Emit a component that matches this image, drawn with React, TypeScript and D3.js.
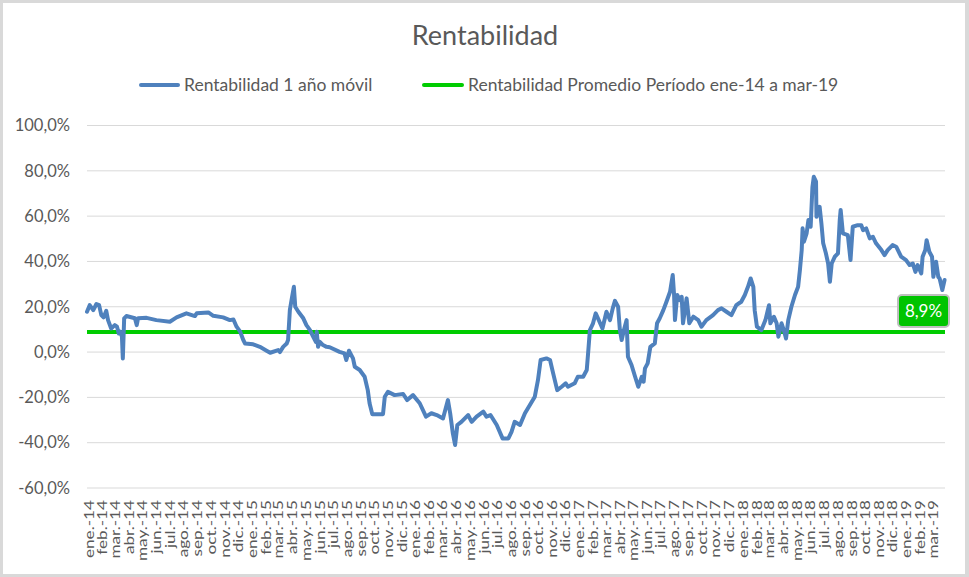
import React, { useEffect } from "react";
import * as d3 from "d3";

// Rentabilidad 1 año móvil (%)
const serie2014: [string, number][] = [
  ["2014-01-01", 17.8], ["2014-01-07", 20.7], ["2014-01-15", 18.5], ["2014-01-22", 21.2],
  ["2014-01-28", 20.7], ["2014-02-02", 16.3], ["2014-02-07", 15.3], ["2014-02-13", 18.2],
  ["2014-02-17", 14.1], ["2014-02-24", 10.4], ["2014-03-04", 11.9], ["2014-03-09", 11.2],
  ["2014-03-13", 8.2], ["2014-03-16", 9.0], ["2014-03-20", 6.8], ["2014-03-22", -2.8],
  ["2014-03-25", 14.9], ["2014-03-30", 15.9], ["2014-04-18", 14.9], ["2014-04-22", 11.9],
  ["2014-04-25", 14.9], ["2014-05-14", 15.1], ["2014-06-05", 14.1], ["2014-07-05", 13.4],
  ["2014-07-20", 15.3], ["2014-08-11", 17.1], ["2014-08-30", 15.9], ["2014-09-03", 17.1],
  ["2014-09-29", 17.5], ["2014-10-10", 16.0], ["2014-11-01", 15.3], ["2014-11-16", 14.1],
  ["2014-11-24", 14.4], ["2014-12-01", 11.2], ["2014-12-09", 9.0], ["2014-12-16", 5.3],
  ["2014-12-20", 3.8],
];

const serie2015: [string, number][] = [
  ["2015-01-07", 3.4], ["2015-01-22", 2.3], ["2015-02-06", 0.6], ["2015-02-14", -0.3],
  ["2015-03-04", 0.9], ["2015-03-08", 0.0], ["2015-03-15", 2.3], ["2015-03-23", 3.8],
  ["2015-03-26", 5.3], ["2015-03-30", 18.5], ["2015-04-04", 24.4], ["2015-04-08", 28.8],
  ["2015-04-11", 20.0], ["2015-04-18", 17.8], ["2015-04-29", 14.9], ["2015-05-06", 11.9],
  ["2015-05-14", 9.7], ["2015-05-21", 6.8], ["2015-05-27", 4.5], ["2015-05-29", 9.0],
  ["2015-06-01", 2.3], ["2015-06-05", 4.5], ["2015-06-12", 3.1], ["2015-06-20", 2.3],
  ["2015-06-27", 2.1], ["2015-07-19", 0.1], ["2015-07-30", -0.6], ["2015-08-03", -3.5],
  ["2015-08-09", 0.6], ["2015-08-18", -2.8], ["2015-08-22", -6.5], ["2015-09-02", -7.9],
  ["2015-09-13", -10.9], ["2015-09-20", -16.8], ["2015-09-24", -22.6], ["2015-09-30", -27.4],
  ["2015-10-24", -27.4], ["2015-10-28", -19.7], ["2015-11-04", -17.5], ["2015-11-19", -19.0],
  ["2015-12-08", -18.5], ["2015-12-17", -21.2], ["2015-12-30", -19.0],
];

const serie2016: [string, number][] = [
  ["2016-01-14", -22.6], ["2016-01-28", -28.5], ["2016-02-09", -27.0], ["2016-02-21", -27.8],
  ["2016-03-06", -29.3], ["2016-03-17", -21.2], ["2016-03-22", -27.0], ["2016-03-28", -35.9],
  ["2016-04-02", -41.0], ["2016-04-07", -32.2], ["2016-04-16", -30.8], ["2016-05-01", -27.8],
  ["2016-05-09", -30.8], ["2016-05-20", -28.5], ["2016-06-04", -26.3], ["2016-06-11", -28.5],
  ["2016-06-20", -27.8], ["2016-07-04", -32.2], ["2016-07-17", -38.1], ["2016-07-30", -38.1],
  ["2016-08-06", -35.2], ["2016-08-13", -30.8], ["2016-08-25", -32.2], ["2016-09-05", -27.0],
  ["2016-09-16", -23.4], ["2016-09-27", -19.7], ["2016-10-04", -12.4], ["2016-10-10", -3.5],
  ["2016-10-23", -2.8], ["2016-10-31", -3.5], ["2016-11-07", -9.4], ["2016-11-16", -16.8],
  ["2016-11-26", -15.3], ["2016-12-05", -13.8], ["2016-12-10", -15.3], ["2016-12-25", -13.8],
];

const serie2017: [string, number][] = [
  ["2017-01-01", -10.9], ["2017-01-13", -10.9], ["2017-01-21", -7.9], ["2017-01-24", -0.6],
  ["2017-01-28", 9.7], ["2017-02-04", 12.7], ["2017-02-10", 17.1], ["2017-02-15", 14.9],
  ["2017-02-25", 10.4], ["2017-03-06", 17.8], ["2017-03-14", 14.1], ["2017-03-20", 19.3],
  ["2017-03-25", 22.6], ["2017-04-01", 20.0], ["2017-04-05", 9.7], ["2017-04-09", 5.3],
  ["2017-04-14", 9.7], ["2017-04-20", 14.1], ["2017-04-23", -2.1], ["2017-05-01", -5.7],
  ["2017-05-09", -10.9], ["2017-05-16", -15.3], ["2017-05-24", -10.9], ["2017-05-28", -13.1],
  ["2017-05-31", -7.2], ["2017-06-06", -5.0], ["2017-06-12", 2.3], ["2017-06-22", 3.8],
  ["2017-06-27", 12.7], ["2017-07-03", 14.9], ["2017-07-11", 18.5], ["2017-07-18", 22.2],
  ["2017-07-26", 26.6], ["2017-08-01", 34.0], ["2017-08-04", 25.2], ["2017-08-06", 14.1],
  ["2017-08-11", 25.2], ["2017-08-17", 22.9], ["2017-08-21", 24.4], ["2017-08-24", 12.7],
  ["2017-09-01", 23.7], ["2017-09-07", 12.7], ["2017-09-16", 15.6], ["2017-09-27", 14.1],
  ["2017-10-04", 11.2], ["2017-10-15", 14.1], ["2017-10-30", 16.3], ["2017-11-10", 18.5],
  ["2017-11-18", 19.3], ["2017-11-29", 17.8], ["2017-12-10", 16.3], ["2017-12-21", 20.7],
];

const serie2018: [string, number][] = [
  ["2018-01-01", 22.2], ["2018-01-09", 25.2], ["2018-01-16", 28.8], ["2018-01-22", 32.5],
  ["2018-01-28", 28.8], ["2018-01-31", 18.5], ["2018-02-05", 11.2], ["2018-02-15", 9.7],
  ["2018-02-24", 14.1], ["2018-03-04", 20.7], ["2018-03-07", 12.7], ["2018-03-15", 15.6],
  ["2018-03-21", 12.7], ["2018-03-25", 6.8], ["2018-04-01", 12.7], ["2018-04-06", 9.7],
  ["2018-04-11", 6.0], ["2018-04-16", 14.1], ["2018-04-23", 20.0], ["2018-05-01", 25.2],
  ["2018-05-08", 28.8], ["2018-05-12", 36.2], ["2018-05-16", 45.0], ["2018-05-18", 54.6],
  ["2018-05-21", 48.7], ["2018-05-27", 52.4], ["2018-05-31", 58.3], ["2018-06-05", 55.3],
  ["2018-06-09", 72.9], ["2018-06-12", 77.4], ["2018-06-17", 75.2], ["2018-06-18", 59.7],
  ["2018-06-25", 64.1], ["2018-06-29", 56.8], ["2018-07-03", 48.0], ["2018-07-09", 43.6],
  ["2018-07-14", 39.1], ["2018-07-18", 31.0], ["2018-07-22", 39.1], ["2018-07-29", 42.1],
  ["2018-08-05", 43.6], ["2018-08-09", 58.3], ["2018-08-11", 62.7], ["2018-08-16", 52.4],
  ["2018-08-27", 51.6], ["2018-09-02", 40.6], ["2018-09-07", 55.3], ["2018-09-18", 56.0],
  ["2018-09-26", 56.0], ["2018-09-30", 53.8], ["2018-10-07", 54.6], ["2018-10-15", 50.2],
  ["2018-10-22", 50.9], ["2018-10-29", 48.0], ["2018-11-10", 45.0], ["2018-11-17", 42.8],
  ["2018-11-24", 45.0], ["2018-12-05", 47.2], ["2018-12-13", 46.5], ["2018-12-24", 42.1],
];

const serie2019: [string, number][] = [
  ["2019-01-04", 40.6], ["2019-01-12", 38.4], ["2019-01-19", 39.1], ["2019-01-25", 35.4],
  ["2019-01-30", 38.4], ["2019-02-07", 34.7], ["2019-02-10", 42.1], ["2019-02-16", 45.0],
  ["2019-02-19", 49.4], ["2019-02-25", 44.3], ["2019-03-03", 42.1], ["2019-03-06", 33.2],
  ["2019-03-12", 39.9], ["2019-03-17", 33.2], ["2019-03-20", 32.5], ["2019-03-26", 27.4],
  ["2019-03-31", 31.8],
];

const promedio = 8.9;
const promedioLabel = "8,9%";

const yTicks = [-60, -40, -20, 0, 20, 40, 60, 80, 100];
const meses = ["ene.", "feb.", "mar.", "abr.", "may.", "jun.", "jul.", "ago.", "sep.", "oct.", "nov.", "dic."];
const anios = [2014, 2015, 2016, 2017, 2018, 2019];

const titulo = "Rentabilidad";
const leyendaSerie = "Rentabilidad 1 año móvil";
const leyendaPromedio = "Rentabilidad Promedio Período ene-14 a mar-19";

const W = 969;
const H = 577;
const FONT = "Lato, 'Open Sans', sans-serif";
const TXT = "#595959";

const App = () => {
  useEffect(() => {
    document.body.style.margin = "0";
  }, []);

  const parse = d3.timeParse("%Y-%m-%d");
  const data = [...serie2014, ...serie2015, ...serie2016, ...serie2017, ...serie2018, ...serie2019].map(
    ([d, v]) => ({ date: parse(d) as Date, value: v })
  );

  const x = d3
    .scaleTime()
    .domain([new Date(2014, 0, 1), new Date(2019, 3, 1)])
    .range([87, 945]);
  const y = d3.scaleLinear().domain([-60, 100]).range([488, 125.5]);

  const line = d3
    .line<{ date: Date; value: number }>()
    .x((d) => x(d.date))
    .y((d) => y(d.value));

  // etiquetas mensuales ene.-14 .. mar.-19
  const months: { date: Date; label: string }[] = [];
  anios.forEach((a) => {
    meses.forEach((m, i) => {
      const d = new Date(a, i, 1);
      if (d <= new Date(2019, 2, 1)) months.push({ date: d, label: `${m}-${String(a).slice(2)}` });
    });
  });

  const fmt = (v: number) => `${v.toFixed(1).replace(".", ",")}%`;

  return (
    <svg width={W} height={H} style={{ display: "block", fontFamily: FONT }}>
      <rect x={0} y={0} width={W} height={H} fill="#d9d9d9" />
      <rect x={3} y={3} width={962} height={571} fill="#ffffff" />

      <text x={485} y={45} textAnchor="middle" fontSize={27} fill={TXT}>
        {titulo}
      </text>

      {/* leyenda */}
      <line x1={141} x2={178} y1={85} y2={85} stroke="#4F81BD" strokeWidth={4} strokeLinecap="round" />
      <text x={184} y={85} dy="0.35em" fontSize={17.5} fill={TXT}>
        {leyendaSerie}
      </text>
      <line x1={424} x2={462} y1={85} y2={85} stroke="#00CC00" strokeWidth={4} strokeLinecap="round" />
      <text x={468} y={85} dy="0.35em" fontSize={17.5} fill={TXT}>
        {leyendaPromedio}
      </text>

      {/* grilla y eje Y */}
      {yTicks.map((t) => (
        <g key={t}>
          <line x1={87} x2={945} y1={y(t)} y2={y(t)} stroke="#d9d9d9" strokeWidth={1} />
          <text x={70} y={y(t)} dy="0.35em" textAnchor="end" fontSize={16.5} fill={TXT}>
            {fmt(t)}
          </text>
        </g>
      ))}

      {/* eje X */}
      {months.map((m) => (
        <text
          key={m.label}
          transform={`translate(${x(m.date) + 2},500) rotate(-90) scale(1.32,1)`}
          dy="0.35em"
          textAnchor="end"
          fontSize={13}
          fill={TXT}
        >
          {m.label}
        </text>
      ))}

      {/* promedio */}
      <line x1={87} x2={945} y1={y(promedio)} y2={y(promedio)} stroke="#00CC00" strokeWidth={4} />

      {/* serie */}
      <path
        d={line(data) || ""}
        fill="none"
        stroke="#4F81BD"
        strokeWidth={4}
        strokeLinejoin="round"
        strokeLinecap="round"
      />

      {/* etiqueta del promedio */}
      <rect x={898} y={295} width={51} height={32} rx={4} fill="#00C400" stroke="#bfbfbf" strokeWidth={2} />
      <text x={923.5} y={311} dy="0.35em" textAnchor="middle" fontSize={17} fill="#ffffff">
        {promedioLabel}
      </text>
    </svg>
  );
};

export default App;
